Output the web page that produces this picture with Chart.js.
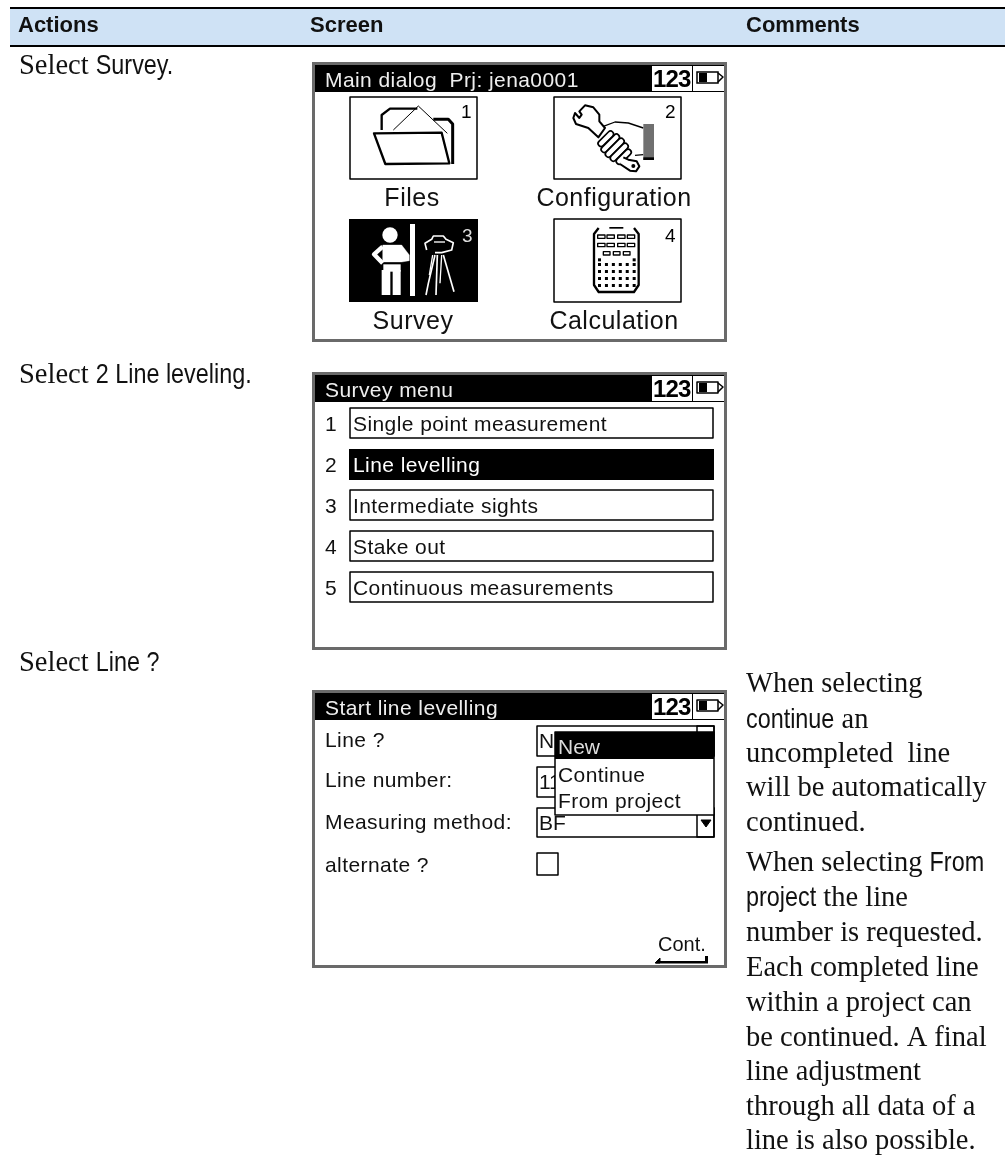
<!DOCTYPE html>
<html>
<head>
<meta charset="utf-8">
<title>Line levelling</title>
<script src="https://cdn.jsdelivr.net/npm/chart.js@4"></script>
<style>
  html, body { margin: 0; padding: 0; background: #fff; }
  canvas { display: block; }
</style>
</head>
<body>
<canvas id="page" width="1005" height="1155"></canvas>
<script>
'use strict';

// *************** TEXT CONTENT
let headers = ['Actions', 'Screen', 'Comments'];
let menuTitles = ['Main dialog  Prj: jena0001', 'Survey menu', 'Start line levelling'];
let modeLabel = '123';
let mainLabels = ['Files', 'Configuration', 'Survey', 'Calculation'];
let mainNumbers = ['1', '2', '3', '4'];
let surveyItems = ['Single point measurement', 'Line levelling', 'Intermediate sights', 'Stake out', 'Continuous measurements'];
let startLabels = ['Line ?', 'Line number:', 'Measuring method:', 'alternate ?'];
let dropdownItems = ['New', 'Continue', 'From project'];
let contLabel = 'Cont.';

const SERIF = '"Liberation Serif"';
const SANS = '"Liberation Sans"';
const LCD = '21px ' + SANS;
const LCD_SPACING = 0.42;

// *************** DRAW HELPERS
function text(ctx, str, x, y, font, color = '#000', spacing = 0, align = 'left') {
  ctx.font = font;
  ctx.fillStyle = color;
  ctx.textAlign = align;
  ctx.textBaseline = 'alphabetic';
  ctx.letterSpacing = spacing + 'px';
  ctx.fillText(str, x, y);
  let width = ctx.measureText(str).width;
  ctx.letterSpacing = '0px';
  return width;
}

function rect(ctx, x, y, w, h, color) {
  ctx.fillStyle = color;
  ctx.fillRect(x, y, w, h);
}

function box(ctx, x, y, w, h, color = '#000', lw = 1.5) {
  ctx.strokeStyle = color;
  ctx.lineWidth = lw;
  ctx.strokeRect(x, y, w, h);
}

function path(ctx, pts, lw, color = '#000', close = false, fill = null) {
  ctx.beginPath();
  ctx.moveTo(pts[0][0], pts[0][1]);
  for (let i = 1; i < pts.length; i++) {
    ctx.lineTo(pts[i][0], pts[i][1]);
  }
  if (close) {
    ctx.closePath();
  }
  if (fill) {
    ctx.fillStyle = fill;
    ctx.fill();
  }
  ctx.lineWidth = lw;
  ctx.strokeStyle = color;
  ctx.lineJoin = 'round';
  ctx.stroke();
}

// mixed serif / condensed sans line, parts are [string, isCommand]
function mixedLine(ctx, parts, x, y) {
  let cx = x;
  for (let i = 0; i < parts.length; i++) {
    if (parts[i][1]) {
      ctx.save();
      ctx.translate(cx, y);
      ctx.scale(0.82, 1);
      cx += text(ctx, parts[i][0], 0, 0, '28.5px ' + SANS, '#111') * 0.82;
      ctx.restore();
    } else {
      cx += text(ctx, parts[i][0], cx, y, '28.5px ' + SERIF, '#111');
    }
  }
}

// *************** DEVICE SCREENS
function screenFrame(ctx, top, bottom, title) {
  rect(ctx, 312, top, 415, bottom - top, '#6a6a6a');
  rect(ctx, 315, top + 3, 409, bottom - top - 6, '#fff');
  rect(ctx, 315, top + 3, 409, 27, '#000');
  text(ctx, title, 325, top + 25, LCD, '#eee', LCD_SPACING);
  rect(ctx, 652, top + 4, 40, 25, '#fff');
  rect(ctx, 693, top + 4, 31, 25, '#fff');
  text(ctx, modeLabel, 653, top + 25, 'bold 24px ' + SANS, '#000', -0.9);
  box(ctx, 697, top + 10, 21, 11, '#000', 1.5);
  rect(ctx, 699, top + 11, 8, 9, '#000');
  path(ctx, [[718, top + 11], [723, top + 15], [718, top + 20]], 1.5);
}

function drawFolder(ctx) {
  path(ctx, [[215, 240], [215, 195], [240, 176], [322, 176]], 7);
  path(ctx, [[370, 208], [415, 208], [428, 222], [428, 342]], 9);
  path(ctx, [[250, 240], [325, 168], [412, 250]], 3);
  path(ctx, [[192, 250], [395, 248], [418, 340], [226, 342]], 7, '#000', true, '#fff');
  path(ctx, [[395, 250], [408, 300]], 3);
}

function drawWrench(ctx) {
  // spanner
  path(ctx, [[75, 22], [58, 40], [65, 50], [58, 60], [45, 45], [40, 60], [48, 78], [85, 90], [115, 118], [135, 90], [118, 70], [118, 50], [100, 28]], 6, '#000', true);
  // wrist and cuff
  path(ctx, [[130, 85], [165, 72], [205, 75], [250, 90]], 4);
  path(ctx, [[225, 172], [250, 170]], 4);
  rect(ctx, 250, 78, 32, 108, '#707070');
  rect(ctx, 250, 178, 32, 8, '#000');
  // fingers
  ctx.save();
  ctx.translate(165, 150);
  ctx.rotate(Math.PI / 4);
  let fingerLength = [58, 70, 72, 68, 56];
  for (let i = 0; i < fingerLength.length; i++) {
    ctx.beginPath();
    ctx.roundRect(-48 + i * 19, -fingerLength[i] / 2, 18, fingerLength[i], 9);
    ctx.lineWidth = 5;
    ctx.strokeStyle = '#000';
    ctx.fillStyle = '#fff';
    ctx.fill();
    ctx.stroke();
  }
  ctx.restore();
  // shaft end with bolt
  path(ctx, [[190, 178], [205, 185], [230, 190], [238, 205], [228, 220], [210, 218], [180, 198]], 6, '#000', false, '#fff');
  ctx.beginPath();
  ctx.arc(220, 204, 6, 0, Math.PI * 2);
  ctx.fillStyle = '#000';
  ctx.fill();
}

function drawSurveyor(ctx) {
  ctx.fillStyle = '#fff';
  ctx.beginPath();
  ctx.arc(90, 45, 23, 0, Math.PI * 2);
  ctx.fill();
  // staff
  rect(ctx, 150, 12, 15, 216, '#fff');
  // body
  path(ctx, [[68, 75], [125, 75], [148, 105], [148, 122], [125, 126], [68, 126]], 1, '#fff', true, '#fff');
  path(ctx, [[68, 80], [42, 103], [68, 130]], 13, '#fff');
  rect(ctx, 70, 133, 52, 22, '#fff');
  rect(ctx, 65, 150, 26, 75, '#fff');
  rect(ctx, 98, 150, 24, 75, '#fff');
  // tripod head
  path(ctx, [[200, 90], [195, 70], [215, 58], [220, 48], [250, 48], [258, 58], [280, 68], [275, 90], [245, 98], [225, 98]], 5, '#fff');
  path(ctx, [[222, 66], [255, 66]], 4, '#fff');
  // tripod legs
  path(ctx, [[225, 105], [205, 190], [198, 225]], 5, '#fff');
  path(ctx, [[218, 105], [208, 165]], 4, '#fff');
  path(ctx, [[232, 105], [228, 225]], 5, '#fff');
  path(ctx, [[245, 105], [240, 190]], 4, '#fff');
  path(ctx, [[250, 105], [282, 215]], 5, '#fff');
}

function drawCalculator(ctx) {
  path(ctx, [[86, 24], [72, 42], [72, 195], [86, 216], [192, 216], [206, 195], [206, 42], [192, 24]], 7);
  rect(ctx, 118, 21, 42, 5, '#000');
  let topCols = [83, 111, 143, 172];
  for (let row = 0; row < 2; row++) {
    for (let c = 0; c < topCols.length; c++) {
      box(ctx, topCols[c], 45 + row * 25, 22, 10, '#000', 4);
    }
  }
  for (let c = 0; c < 3; c++) {
    box(ctx, 100 + c * 30, 95, 20, 10, '#000', 4);
  }
  rect(ctx, 84, 115, 9, 9, '#000');
  rect(ctx, 188, 115, 9, 9, '#000');
  for (let row = 0; row < 4; row++) {
    for (let c = 0; c < 6; c++) {
      rect(ctx, 84 + c * 20.8, 129 + row * 21, 9, 9, '#000');
    }
  }
}

function zoomed(ctx, ox, oy, fn) {
  ctx.save();
  ctx.translate(ox, oy);
  ctx.scale(1 / 3, 1 / 3);
  fn(ctx);
  ctx.restore();
}

function drawMainScreen(ctx) {
  screenFrame(ctx, 62, 342, menuTitles[0]);
  box(ctx, 350, 97, 127, 82);
  box(ctx, 554, 97, 127, 82);
  rect(ctx, 349, 219, 129, 83, '#000');
  box(ctx, 554, 219, 127, 83);
  zoomed(ctx, 310, 50, drawFolder);
  zoomed(ctx, 560, 98, drawWrench);
  zoomed(ctx, 360, 220, drawSurveyor);
  zoomed(ctx, 570, 220, drawCalculator);
  let numFont = '19px ' + SANS;
  text(ctx, mainNumbers[0], 461, 118, numFont);
  text(ctx, mainNumbers[1], 665, 118, numFont);
  text(ctx, mainNumbers[2], 462, 242, numFont, '#ddd');
  text(ctx, mainNumbers[3], 665, 242, numFont);
  let labelFont = '25px ' + SANS;
  text(ctx, mainLabels[0], 412, 206, labelFont, '#111', 0.5, 'center');
  text(ctx, mainLabels[1], 614, 206, labelFont, '#111', 0.5, 'center');
  text(ctx, mainLabels[2], 413, 329, labelFont, '#111', 0.5, 'center');
  text(ctx, mainLabels[3], 614, 329, labelFont, '#111', 0.5, 'center');
}

function drawSurveyScreen(ctx) {
  screenFrame(ctx, 372, 650, menuTitles[1]);
  for (let i = 0; i < surveyItems.length; i++) {
    let y = 408 + i * 41;
    let selected = i === 1;
    text(ctx, String(i + 1), 325, y + 23, LCD, '#111');
    if (selected) {
      rect(ctx, 349, y, 365, 31, '#000');
    } else {
      box(ctx, 350, y, 363, 30);
    }
    text(ctx, surveyItems[i], 353, y + 23, LCD, selected ? '#fff' : '#111', LCD_SPACING);
  }
}

function drawStartScreen(ctx) {
  screenFrame(ctx, 690, 968, menuTitles[2]);
  let rowBase = [747, 787, 829, 872];
  for (let i = 0; i < startLabels.length; i++) {
    text(ctx, startLabels[i], 325, rowBase[i], LCD, '#111', LCD_SPACING);
  }
  // fields behind the open dropdown
  box(ctx, 537, 726, 177, 30);
  box(ctx, 697, 726, 17, 30);
  text(ctx, 'N', 539, 748, LCD, '#111');
  box(ctx, 537, 767, 30, 30);
  text(ctx, '11', 539, 789, LCD, '#111');
  box(ctx, 537, 808, 177, 29);
  box(ctx, 697, 808, 17, 29);
  text(ctx, 'BF', 539, 830, LCD, '#111');
  path(ctx, [[701, 820], [711, 820], [706, 827]], 1, '#000', true, '#000');
  box(ctx, 537, 853, 21, 22);
  // dropdown
  rect(ctx, 555, 732, 159, 83, '#fff');
  box(ctx, 555, 732, 159, 83);
  rect(ctx, 555, 732, 159, 27, '#000');
  text(ctx, dropdownItems[0], 558, 754, LCD, '#ddd');
  text(ctx, dropdownItems[1], 558, 782, LCD, '#111', LCD_SPACING);
  text(ctx, dropdownItems[2], 558, 808, LCD, '#111', LCD_SPACING);
  // soft key
  text(ctx, contLabel, 658, 951, '20px ' + SANS, '#111', 0);
  rect(ctx, 656, 961, 52, 2.5, '#000');
  path(ctx, [[655, 963], [660, 958], [660, 963]], 1, '#000', true, '#000');
  rect(ctx, 705, 956, 3, 7, '#000');
}

// *************** PAGE PLUGIN
let pagePlugin = {
  id: 'pagePlugin',
  afterDraw(chart) {
    let ctx = chart.ctx;
    ctx.save();

    // header band
    rect(ctx, 10, 9, 995, 36, '#cfe2f5');
    rect(ctx, 10, 7, 995, 2, '#000');
    rect(ctx, 10, 45, 995, 2, '#000');
    let headerX = [18, 310, 746];
    for (let i = 0; i < headers.length; i++) {
      text(ctx, headers[i], headerX[i], 32, 'bold 22px ' + SANS, '#111');
    }

    // actions column
    mixedLine(ctx, [['Select ', false], ['Survey.', true]], 19, 74);
    mixedLine(ctx, [['Select ', false], ['2 Line leveling.', true]], 19, 383);
    mixedLine(ctx, [['Select ', false], ['Line ?', true]], 19, 671);

    drawMainScreen(ctx);
    drawSurveyScreen(ctx);
    drawStartScreen(ctx);

    // comments column
    mixedLine(ctx, [['When selecting', false]], 746, 692);
    mixedLine(ctx, [['continue', true], [' an', false]], 746, 728);
    mixedLine(ctx, [['uncompleted  line', false]], 746, 762);
    mixedLine(ctx, [['will be automatically', false]], 746, 796);
    mixedLine(ctx, [['continued.', false]], 746, 831);
    mixedLine(ctx, [['When selecting ', false], ['From', true]], 746, 871);
    mixedLine(ctx, [['project', true], [' the line', false]], 746, 906);
    mixedLine(ctx, [['number is requested.', false]], 746, 941);
    mixedLine(ctx, [['Each completed line', false]], 746, 976);
    mixedLine(ctx, [['within a project can', false]], 746, 1011);
    mixedLine(ctx, [['be continued. A final', false]], 746, 1046);
    mixedLine(ctx, [['line adjustment', false]], 746, 1080);
    mixedLine(ctx, [['through all data of a', false]], 746, 1115);
    mixedLine(ctx, [['line is also possible.', false]], 746, 1149);

    ctx.restore();
  }
};

// *************** CHART
new Chart(document.getElementById('page'), {
  type: 'scatter',
  data: { datasets: [{ data: [] }] },
  options: {
    responsive: false,
    animation: false,
    layout: { padding: 0 },
    plugins: { legend: { display: false }, tooltip: { enabled: false } },
    scales: { x: { display: false }, y: { display: false } }
  },
  plugins: [pagePlugin]
});
</script>
</body>
</html>
